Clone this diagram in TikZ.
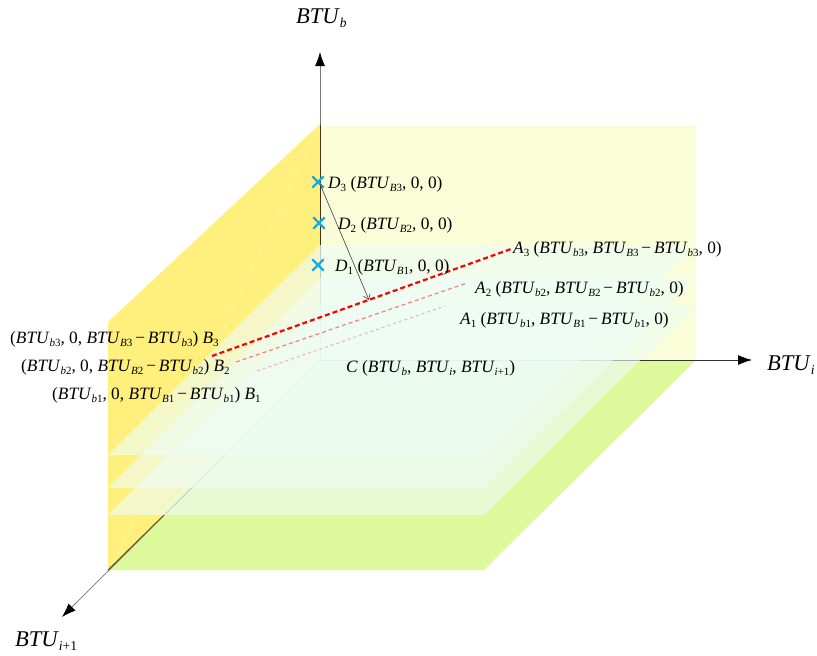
\documentclass[tikz,border=0pt]{standalone}
\usepackage{fontspec}
\setmainfont{Liberation Serif}
\usetikzlibrary{arrows.meta,shapes.misc,calc}
\definecolor{backwall}{RGB}{251,253,217}
\definecolor{leftwall}{RGB}{255,240,125}
\definecolor{floorgreen}{RGB}{222,249,155}
\definecolor{layercol}{RGB}{238,252,246}
\definecolor{crossblue}{RGB}{20,170,235}
\definecolor{axisgray}{RGB}{120,120,120}
\definecolor{redA}{RGB}{255,0,0}
\definecolor{redB}{RGB}{240,130,130}
\definecolor{redC}{RGB}{246,175,175}
\newcommand\bt{\textit{BTU}}
\newcommand\sbx[1]{\raisebox{-0.45ex}{\fontsize{11}{11}\selectfont #1}}
\newcommand\sbl[1]{\raisebox{-0.45ex}{\fontsize{13.5}{13.5}\selectfont #1}}
\newcommand\mi{\,−\,}
\tikzset{
  lbl/.style={inner sep=0pt, font=\fontsize{17.3}{17.3}\selectfont, anchor=base west},
  axlbl/.style={inner sep=0pt, font=\fontsize{22.5}{22.5}\selectfont, anchor=base west},
  layer/.style={fill=layercol, fill opacity=0.62},
  axtip/.style={-{Latex[length=14pt,width=10pt,color=black]}},
  xmark/.style={cross out, draw=crossblue, line width=2.3pt, minimum size=9pt, inner sep=0pt},
}
\begin{document}
\begin{tikzpicture}[x=1pt,y=-1pt]
\useasboundingbox (0,0) rectangle (817,656);
% walls and floor
\fill[backwall] (320,126) rectangle (696,360);
\fill[leftwall] (320,124) -- (108,322) -- (108,570) -- (320,360) -- cycle;
\fill[floorgreen] (320,360) -- (696,360) -- (484,570) -- (108,570) -- cycle;
\draw[color={rgb,255:red,255;green,250;blue,150}, line width=0.6pt] (320,124) -- (112,566);
% axes
\coordinate (O) at (320,360);
\coordinate (yt) at (320,52);
\coordinate (xt) at (752,360);
\coordinate (zt) at (62,617);
\coordinate (fc) at (108,570);
\coordinate (fl) at (164,515);
\draw[draw=axisgray, line width=0.8pt, axtip] (O) -- (yt);
\draw[draw=black!80, line width=0.8pt, axtip] (O) -- (xt);
\draw[draw=axisgray, line width=0.8pt, axtip] (O) -- (zt);
\coordinate (wt) at (320,125);
\coordinate (wb) at (320,245);
\draw[color={rgb,255:red,70;green,50;blue,20}, line width=1pt] (wt) -- (wb);
\draw[color={rgb,255:red,90;green,80;blue,40}, line width=0.9pt] (fl) -- (fc);
% layers
\foreach \yb in {305,278,245}{
  \fill[layer] (320,\yb) -- (696,\yb) -- (484,\yb+210) -- (108,\yb+210) -- cycle;
}
% dashed lines
\coordinate (a3) at (511,249);
\coordinate (b3) at (212,356);
\coordinate (a2) at (467,283);
\coordinate (b2) at (236,362);
\coordinate (a1) at (445,306);
\coordinate (b1) at (257,371);
\draw[redA, line width=2.2pt, dash pattern=on 5pt off 3pt] (b3) -- (a3);
\draw[redB, line width=1.2pt, dash pattern=on 4pt off 3pt] (b2) -- (a2);
\draw[redC, line width=1pt, dash pattern=on 3pt off 3pt] (b1) -- (a1);
% crosses
\node[xmark] (d3x) at (318,182) {};
\node[xmark] (d2x) at (319,223) {};
\node[xmark] (d1x) at (318,265) {};
\coordinate (d3tip) at (369,300);
\draw[black!75, line width=0.6pt, -{Straight Barb[length=5pt,width=7pt]}] ([shift={(2,2)}]d3x.center) -- (d3tip);
% labels
\node[lbl] (d3l) at (328,188) {\textit{D}\sbx{3} (\bt\sbx{\textit{B}3}, 0, 0)};
\node[lbl] (d2l) at (338,229) {\textit{D}\sbx{2} (\bt\sbx{\textit{B}2}, 0, 0)};
\node[lbl] (d1l) at (335,271) {\textit{D}\sbx{1} (\bt\sbx{\textit{B}1}, 0, 0)};
\node[lbl] (a3l) at (513,253) {\textit{A}\sbx{3} (\bt\sbx{\textit{b}3}, \bt\sbx{\textit{B}3}\mi\bt\sbx{\textit{b}3}, 0)};
\node[lbl] (a2l) at (475,293) {\textit{A}\sbx{2} (\bt\sbx{\textit{b}2}, \bt\sbx{\textit{B}2}\mi\bt\sbx{\textit{b}2}, 0)};
\node[lbl] (a1l) at (460,324) {\textit{A}\sbx{1} (\bt\sbx{\textit{b}1}, \bt\sbx{\textit{B}1}\mi\bt\sbx{\textit{b}1}, 0)};
\node[lbl] (b3l) at (10,343) {(\bt\sbx{\textit{b}3}, 0, \bt\sbx{\textit{B}3}\mi\bt\sbx{\textit{b}3}) \textit{B}\sbx{3}};
\node[lbl] (b2l) at (21,371) {(\bt\sbx{\textit{b}2}, 0, \bt\sbx{\textit{B}2}\mi\bt\sbx{\textit{b}2}) \textit{B}\sbx{2}};
\node[lbl] (b1l) at (52,399) {(\bt\sbx{\textit{b}1}, 0, \bt\sbx{\textit{B}1}\mi\bt\sbx{\textit{b}1}) \textit{B}\sbx{1}};
\node[lbl] (cl) at (346,372) {\textit{C} (\bt\sbx{\textit{b}}, \bt\sbx{\textit{i}}, \bt\sbx{\textit{i}+1})};
\node[axlbl] (ylab) at (296,23) {\bt\sbl{\textit{b}}};
\node[axlbl] (xlab) at (767,370) {\bt\sbl{\textit{i}}};
\node[axlbl] (zlab) at (15,646) {\bt\sbl{\textit{i}+1}};
\end{tikzpicture}
\end{document}
